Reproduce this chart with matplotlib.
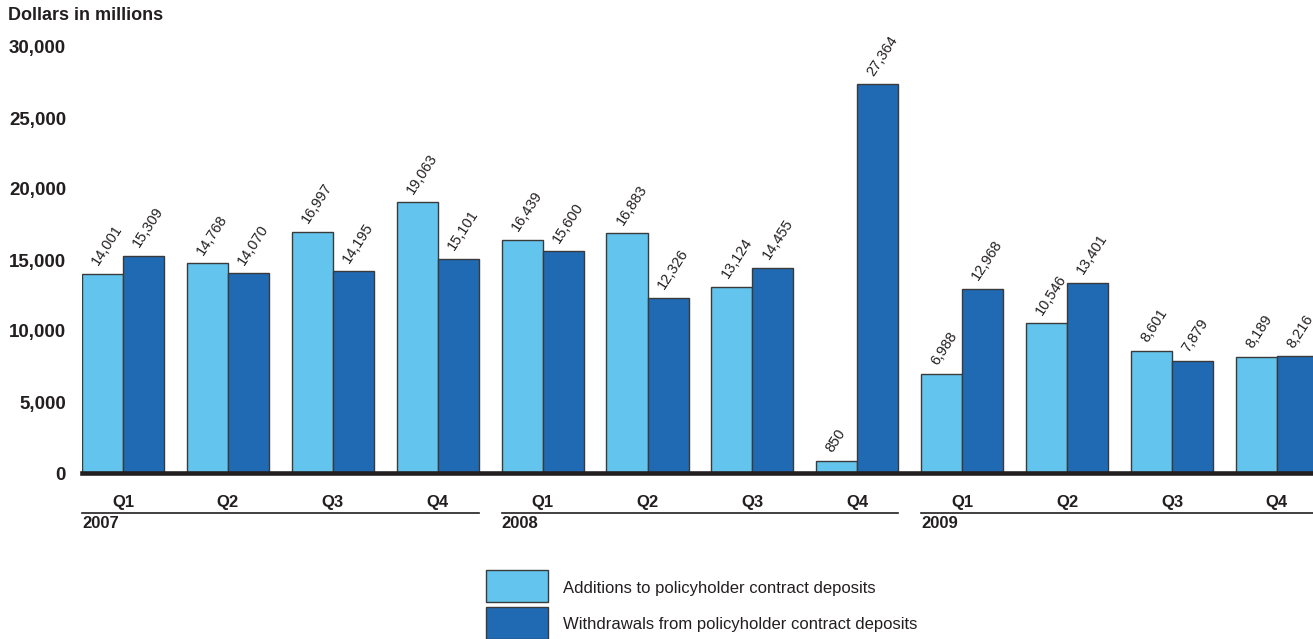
import matplotlib
matplotlib.use("Agg")
import matplotlib.pyplot as plt
import numpy as np
from matplotlib.transforms import blended_transform_factory
from matplotlib.patches import Rectangle
from matplotlib.lines import Line2D

plt.rcParams['font.family'] = ['Liberation Sans', 'DejaVu Sans']

quarters = ["Q1", "Q2", "Q3", "Q4"] * 3
years = ["2007", "2008", "2009"]
additions = [14001, 14768, 16997, 19063, 16439, 16883, 13124, 850, 6988, 10546, 8601, 8189]
withdrawals = [15309, 14070, 14195, 15101, 15600, 12326, 14455, 27364, 12968, 13401, 7879, 8216]
y_ticks = [0, 5000, 10000, 15000, 20000, 25000, 30000]
series_names = ["Additions to policyholder contract deposits",
                "Withdrawals from policyholder contract deposits"]

LIGHT = "#63c5ee"
DARK = "#1f6ab3"
EDGE = "#3a3a3a"
INK = "#231f20"

W, H = 1313, 639
fig = plt.figure(figsize=(W / 100, H / 100), dpi=100)
ax = fig.add_axes([82 / W, 1 - 473 / H, 1 - 82 / W, 426 / H])

bw = 0.391
x = np.arange(len(additions))
ax.bar(x - bw / 2, additions, width=bw, color=LIGHT, edgecolor=EDGE, linewidth=1.0, zorder=2)
ax.bar(x + bw / 2, withdrawals, width=bw, color=DARK, edgecolor=EDGE, linewidth=1.0, zorder=2)

for xs, vals in ((x - bw / 2, additions), (x + bw / 2, withdrawals)):
    for xi, v in zip(xs, vals):
        ax.annotate(f"{v:,}", xy=(xi, v), xytext=(-3.0, 5.6), textcoords="offset points",
                    rotation=57, rotation_mode="anchor", ha="left", va="baseline",
                    fontsize=10.5, color=INK, annotation_clip=False)

ax.set_xlim(-bw, (W - 123) / 104.9)
ax.set_ylim(0, 30000)
for s in ax.spines.values():
    s.set_visible(False)
ax.axhline(0, color=INK, lw=3.3, zorder=3, clip_on=False)

ax.set_yticks(y_ticks)
ax.set_yticklabels([f"{t:,}" for t in y_ticks], fontweight="bold", fontsize=13.5, color=INK)
ax.tick_params(axis="y", length=0, pad=11.5)
ax.set_xticks([])

tr = blended_transform_factory(ax.transData, fig.transFigure)
for xi, q in zip(x, quarters):
    fig.text(xi, 1 - 502.5 / H, q, transform=tr, ha="center", va="center",
             fontsize=12, fontweight="bold", color=INK)

for k, yr in enumerate(years):
    x0 = 4 * k - bw
    x1 = 4 * k + 3 + bw if k < 2 else 20
    fig.add_artist(Line2D([x0, x1], [1 - 512.5 / H] * 2, transform=tr, color=INK, lw=1.2))
    fig.text(x0, 1 - 524 / H, yr, transform=tr, ha="left", va="center",
             fontsize=12, fontweight="bold", color=INK)

fig.text(8 / W, 1 - 16 / H, "Dollars in millions", ha="left", va="center",
         fontsize=13, fontweight="bold", color=INK)

# Legend drawn in figure pixel space
for (ytop, col, name) in ((570, LIGHT, series_names[0]), (607, DARK, series_names[1])):
    fig.add_artist(Rectangle((486 / W, 1 - (ytop + 32) / H), 62 / W, 32 / H,
                             transform=fig.transFigure, facecolor=col, edgecolor=EDGE, lw=1.0))
    fig.text(563 / W, 1 - (ytop + 18) / H, name, ha="left", va="center",
             fontsize=12, color=INK)

fig.savefig("out.png", dpi=100)
